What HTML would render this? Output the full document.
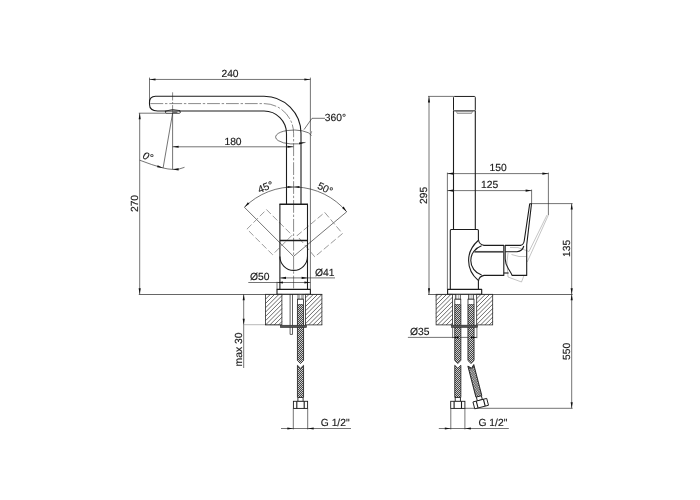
<!DOCTYPE html>
<html lang="en">
<head>
<meta charset="utf-8">
<title>Faucet technical drawing</title>
<style>
html,body{margin:0;padding:0;background:#fff;}
body{width:700px;height:500px;overflow:hidden;font-family:"Liberation Sans",Arial,sans-serif;}
svg{display:block;}
</style>
</head>
<body>
<svg width="700" height="500" viewBox="0 0 700 500">
<rect width="700" height="500" fill="#fff"/>
<defs>
<pattern id="braid" x="0" y="0" width="2" height="2" patternUnits="userSpaceOnUse">
<rect width="2" height="2" fill="#454545"/>
<rect x="0" y="0" width="1" height="1" fill="#cfcfcf" shape-rendering="crispEdges"/>
<rect x="1" y="1" width="1" height="1" fill="#cfcfcf" shape-rendering="crispEdges"/>
</pattern>
<filter id="soft" x="-5%" y="-5%" width="110%" height="110%"><feGaussianBlur stdDeviation="0.28"/></filter>
</defs>
<g fill="none" stroke="#2a2a2a" stroke-width="0.65">
<path d="M149.5 77.6V101 M310.4 77.6V289.4 M149.5 79.45H310.4"/>
<path d="M138.8 113.2H165 M139.7 113.2V294.3"/>
<path d="M172.6 146.8H293.5"/>
<path d="M172.6 113V169.5"/>
<path d="M172.6 113.2L163.1 168"/>
<path d="M139.7 160.2Q152 165 163.1 168 Q168 169.2 172.6 169.4 M172.6 169.4 Q180 169.6 184.5 167.3"/>
<path d="M325 118.3H312L304 129.6"/>
<path d="M311.6 135.5A18.2 7 0 1 0 305.5 142.4"/>
<path d="M244.4 207.3A69.4 69.4 0 0 1 346.7 211.8"/>
<path d="M244.4 207.3L293.5 256.4L346.7 211.8"/>
<path d="M280.3 277.9H335 M248.3 282.5H310.4 M277 281.8V289.4"/>
<path d="M243.7 294.3V368"/>
<path d="M281 428.5H351 M293.3 408.5V429.4 M307.7 408.5V429.4"/>
</g>
<g fill="none" stroke="#8a8a8a" stroke-width="0.6">
<path d="M243.2 324.7H281"/>
</g>
<g fill="none" stroke="#2a2a2a" stroke-width="0.55" stroke-dasharray="12.8 1.8 2.4 1.9">
<path d="M150.4 103.6H264A29.7 29.7 0 0 1 293.6 133.3V289"/>
<path d="M172.6 92.3V113" stroke-dasharray="8.2 1.5 1.6 1.5"/>
</g>
<g fill="none" stroke="#7a7a7a" stroke-width="0.7" stroke-dasharray="6.5 2.6">
<rect x="279.9" y="204.2" width="27.6" height="36.2" transform="rotate(-45 293.5 256.4)"/>
<rect x="279.9" y="204.2" width="27.6" height="36.2" transform="rotate(50 293.5 256.4)"/>
</g>
<g fill="none" stroke="#1c1c1c" stroke-width="1.1" stroke-linejoin="round">
<path d="M264 96.3H155.5Q149.5 96.5 149.5 102.3V104.6Q149.6 110.9 157.6 111H264A22.5 22.5 0 0 1 286.5 133.5V204.2"/>
<path d="M264 96.3A37 37 0 0 1 301 133.3V204.2"/>
<path d="M164.9 111.3Q172.5 108 180.2 110.7" stroke-width="0.8"/>
<path d="M165.6 111V113.3H179.2A1.2 1.2 0 0 0 179.2 110.9" stroke-width="0.8"/>
<rect x="172.6" y="111.3" width="4.8" height="1.8" fill="#666" stroke="none"/>
<path d="M279.9 204.2V289.4 M307.5 204.2V289.4"/>
<path d="M279.4 204.3H308 M279.9 240.4H307.5" stroke-width="1.45"/>
<path d="M279.9 256.6A13.8 13.8 0 0 0 307.5 256.6"/>
<rect x="277" y="289.4" width="33.4" height="4.9" fill="#fff"/>
</g>
<g stroke="#1c1c1c" stroke-width="0.75">
<path d="M265.60 294.80L266.10 294.30M265.60 299.10L270.40 294.30M265.60 303.40L274.70 294.30M265.60 307.70L279.00 294.30M265.60 312.00L281.90 295.70M265.60 316.30L281.90 300.00M265.60 320.60L281.90 304.30M265.60 324.90L281.90 308.60M269.90 324.90L281.90 312.90M274.20 324.90L281.90 317.20M278.50 324.90L281.90 321.50" fill="none" stroke="#444" stroke-width="0.8"/>
<path d="M305.60 297.80L309.10 294.30M305.60 302.10L313.40 294.30M305.60 306.40L317.70 294.30M305.60 310.70L321.90 294.40M305.60 315.00L321.90 298.70M305.60 319.30L321.90 303.00M305.60 323.60L321.90 307.30M308.60 324.90L321.90 311.60M312.90 324.90L321.90 315.90M317.20 324.90L321.90 320.20M321.50 324.90L321.90 324.50" fill="none" stroke="#444" stroke-width="0.8"/>
<rect x="265.6" y="294.3" width="16.3" height="30.6" fill="none"/>
<rect x="305.6" y="294.3" width="16.3" height="30.6" fill="none"/>
</g>
<g fill="none" stroke="#1c1c1c" stroke-width="0.7">
<path d="M138.8 294.5H321.9" stroke-width="0.75" stroke="#333"/>
<path d="M290.1 294.3V334.4H292.5V294.3" />
</g>
<rect x="298.0" y="294.5" width="5" height="4.7" fill="#fff" stroke="#222" stroke-width="0.7"/><path d="M299.4 295V299M301.4 295V299" fill="none" stroke="#777" stroke-width="0.6"/><rect x="297.5" y="299.2" width="6.0" height="5.3" fill="#fff" stroke="#222" stroke-width="0.8"/>
<g><path d="M297.45 304.5V360.5L300.5 363.5L303.55 360.5V304.5Z" fill="url(#braid)" stroke="none"/><path d="M297.45 304.5V360.5L300.5 363.5L303.55 360.5V304.5" fill="none" stroke="#222" stroke-width="0.85" stroke-linejoin="miter"/></g>
<g><path d="M297.45 397.4V365.3L300.5 368.3L303.55 365.3V397.4Z" fill="url(#braid)" stroke="none"/><path d="M297.45 397.4V365.3L300.5 368.3L303.55 365.3V397.4" fill="none" stroke="#222" stroke-width="0.85" stroke-linejoin="miter"/></g>
<rect x="280.3" y="325.2" width="26.3" height="2.4" fill="#555" stroke="#222" stroke-width="0.5"/>
<g fill="#fff" stroke="#1c1c1c" stroke-width="0.9"><rect x="297.9" y="397.4" width="5.2" height="4"/><rect x="293.4" y="401.3" width="14.2" height="7.1"/><path d="M296.8 401.3V408.4M304.2 401.3V408.4" stroke-width="1.1"/></g>
<g fill="none" stroke="#2a2a2a" stroke-width="0.65">
<path d="M428 96.4H453.5 M429 96.4V294.3"/>
<path d="M447.4 172.6V289.4 M447.4 173.6H548.4 M548.4 172.6V215 M447.4 190.6H531.6 M531.6 189.6V203.6"/>
<path d="M531 203.6H572.6 M571.7 203.6V408.3 M465 408.3H572.6"/>
<path d="M407.9 337.4H476.9 M452.6 327.5V338.2 M476.9 327.5V338.2"/>
<path d="M438.8 428.5H508.8 M450.8 408.5V429.4 M464.9 408.5V429.4"/>
</g>
<g fill="none" stroke="#8a8a8a" stroke-width="0.5">
<path d="M547 215L529 251.5 M548.4 215L527.2 262"/>
<path d="M510 247.5L518 247.6L529 251.5 M508 253L507 262L508 277L521.5 282L524 275.5 M511.5 254.5L519 256.5L526.5 256.5"/>
</g>
<g fill="none" stroke="#1c1c1c" stroke-width="1.1" stroke-linejoin="round">
<rect x="453.5" y="96.45" width="21.8" height="14.4" rx="0.9" stroke-width="1"/>
<path d="M456 111L457.3 113.5H471.5L472.8 111 M457 111.9H472" stroke="#444" stroke-width="0.5"/>
<path d="M453.5 110.7V229.5 M475.3 110.7V229.5"/>
<path d="M451.3 229.5H477.4Q478.4 229.5 478.4 230.5V239.5Q479 244.5 484 245.4H503.8V275.4H484Q479 276.3 478.4 281.2V289.4 M450.3 289.4V230.5Q450.3 229.5 451.3 229.5"/>
<path d="M478.2 240.5Q468.6 249 468.6 260.4Q468.6 272 478.2 280.3"/>
<path d="M481.6 245.7C475 248 470.8 254 470.8 260.4C470.8 267 475 272.9 481.6 275.1"/>
<path d="M474.3 251.8H503.8" stroke="#4a4a4a" stroke-width="1.7"/>
<path d="M505.2 245.4H520.5Q523.6 244.8 524.2 241L529.7 203.8H531.5L526.7 245V275.4H512.2Q510.8 272.5 508.5 269Q505.3 264 505.2 259Z"/>
<path d="M505.2 251.8H517Q522.5 251 523.8 246"/>
<path d="M503.8 273H508.6"/>
<rect x="447.6" y="289.4" width="34.1" height="4.9" fill="#fff"/>
</g>
<g stroke="#1c1c1c" stroke-width="0.75">
<path d="M436.10 296.30L438.10 294.30M436.10 300.60L442.40 294.30M436.10 304.90L446.70 294.30M436.10 309.20L451.00 294.30M436.10 313.50L452.40 297.20M436.10 317.80L452.40 301.50M436.10 322.10L452.40 305.80M437.60 324.90L452.40 310.10M441.90 324.90L452.40 314.40M446.20 324.90L452.40 318.70M450.50 324.90L452.40 323.00" fill="none" stroke="#444" stroke-width="0.8"/>
<path d="M476.70 294.40L476.80 294.30M476.70 298.70L481.10 294.30M476.70 303.00L485.40 294.30M476.70 307.30L489.70 294.30M476.70 311.60L492.70 295.60M476.70 315.90L492.70 299.90M476.70 320.20L492.70 304.20M476.70 324.50L492.70 308.50M480.60 324.90L492.70 312.80M484.90 324.90L492.70 317.10M489.20 324.90L492.70 321.40" fill="none" stroke="#444" stroke-width="0.8"/>
<rect x="436.1" y="294.3" width="16.3" height="30.6" fill="none"/>
<rect x="476.7" y="294.3" width="16" height="30.6" fill="none"/>
</g>
<g fill="none" stroke="#1c1c1c" stroke-width="0.7">
<path d="M428 294.5H572.6" stroke-width="0.75" stroke="#333"/>
</g>
<rect x="455.3" y="294.5" width="5" height="4.7" fill="#fff" stroke="#222" stroke-width="0.7"/><path d="M456.7 295V299M458.7 295V299" fill="none" stroke="#777" stroke-width="0.6"/><rect x="454.8" y="299.2" width="6.0" height="5.3" fill="#fff" stroke="#222" stroke-width="0.8"/>
<g><path d="M454.75 304.5V360.5L457.8 363.5L460.85 360.5V304.5Z" fill="url(#braid)" stroke="none"/><path d="M454.75 304.5V360.5L457.8 363.5L460.85 360.5V304.5" fill="none" stroke="#222" stroke-width="0.85" stroke-linejoin="miter"/></g>
<rect x="468.5" y="294.5" width="5" height="4.7" fill="#fff" stroke="#222" stroke-width="0.7"/><path d="M469.9 295V299M471.9 295V299" fill="none" stroke="#777" stroke-width="0.6"/><rect x="468.0" y="299.2" width="6.0" height="5.3" fill="#fff" stroke="#222" stroke-width="0.8"/>
<g><path d="M467.95 304.5V360.5L471.0 363.5L474.05 360.5V304.5Z" fill="url(#braid)" stroke="none"/><path d="M467.95 304.5V360.5L471.0 363.5L474.05 360.5V304.5" fill="none" stroke="#222" stroke-width="0.85" stroke-linejoin="miter"/></g>
<g><path d="M454.75 397.4V365.3L457.8 368.3L460.85 365.3V397.4Z" fill="url(#braid)" stroke="none"/><path d="M454.75 397.4V365.3L457.8 368.3L460.85 365.3V397.4" fill="none" stroke="#222" stroke-width="0.85" stroke-linejoin="miter"/></g>
<g transform="rotate(-14.5 471.0 366)">
<path d="M467.95 397.4V365.3L471 368.3L474.05 365.3V397.4Z" fill="#4c4c4c"/>
<path d="M468.90 368.5V397.4" stroke="#d4d4d4" stroke-width="1.05" stroke-dasharray="1.05 1.05" stroke-dashoffset="0" fill="none"/>
<path d="M469.95 368.5V397.4" stroke="#d4d4d4" stroke-width="1.05" stroke-dasharray="1.05 1.05" stroke-dashoffset="1.05" fill="none"/>
<path d="M471.00 368.5V397.4" stroke="#d4d4d4" stroke-width="1.05" stroke-dasharray="1.05 1.05" stroke-dashoffset="0" fill="none"/>
<path d="M472.05 368.5V397.4" stroke="#d4d4d4" stroke-width="1.05" stroke-dasharray="1.05 1.05" stroke-dashoffset="1.05" fill="none"/>
<path d="M473.10 368.5V397.4" stroke="#d4d4d4" stroke-width="1.05" stroke-dasharray="1.05 1.05" stroke-dashoffset="0" fill="none"/>
<path d="M467.95 397.4V365.3L471 368.3L474.05 365.3V397.4" fill="none" stroke="#222" stroke-width="0.85"/>
</g>
<rect x="451.4" y="325.1" width="26.2" height="2.4" fill="#555" stroke="#222" stroke-width="0.5"/>
<g fill="#fff" stroke="#1c1c1c" stroke-width="0.9"><rect x="455.2" y="397.4" width="5.2" height="4"/><rect x="450.7" y="401.3" width="14.2" height="7.1"/><path d="M454.1 401.3V408.4M461.5 401.3V408.4" stroke-width="1.1"/></g>
<g transform="rotate(-14.5 471.0 366)" fill="#fff" stroke="#1c1c1c" stroke-width="0.9"><rect x="468.4" y="397.4" width="5.2" height="4"/><rect x="463.9" y="401.3" width="14.2" height="7.1"/><path d="M467.3 401.3V408.4M474.7 401.3V408.4" stroke-width="1.1"/></g>
<polygon points="0,0 -6.0,-1.05 -6.0,1.05" fill="#111" transform="translate(149.5,79.45) rotate(180)"/>
<polygon points="0,0 -6.0,-1.05 -6.0,1.05" fill="#111" transform="translate(310.4,79.45) rotate(0)"/>
<polygon points="0,0 -6.0,-1.05 -6.0,1.05" fill="#111" transform="translate(139.7,113.2) rotate(-90)"/>
<polygon points="0,0 -6.0,-1.05 -6.0,1.05" fill="#111" transform="translate(139.7,294.3) rotate(90)"/>
<polygon points="0,0 -6.0,-1.05 -6.0,1.05" fill="#111" transform="translate(172.6,146.8) rotate(180)"/>
<polygon points="0,0 -6.0,-1.05 -6.0,1.05" fill="#111" transform="translate(293.5,146.8) rotate(0)"/>
<polygon points="0,0 -6.0,-1.05 -6.0,1.05" fill="#111" transform="translate(163.1,168) rotate(17)"/>
<polygon points="0,0 -6.0,-1.05 -6.0,1.05" fill="#111" transform="translate(172.6,169.4) rotate(180)"/>
<polygon points="0,0 -6.0,-1.05 -6.0,1.05" fill="#111" transform="translate(243.7,294.3) rotate(-90)"/>
<polygon points="0,0 -6.0,-1.05 -6.0,1.05" fill="#111" transform="translate(243.7,324.7) rotate(90)"/>
<polygon points="0,0 -6.0,-1.05 -6.0,1.05" fill="#111" transform="translate(280,277.9) rotate(180)"/>
<polygon points="0,0 -6.0,-1.05 -6.0,1.05" fill="#111" transform="translate(307.6,277.9) rotate(0)"/>
<polygon points="0,0 -6.0,-1.05 -6.0,1.05" fill="#111" transform="translate(277,282.5) rotate(180)"/>
<polygon points="0,0 -6.0,-1.05 -6.0,1.05" fill="#111" transform="translate(310.4,282.5) rotate(0)"/>
<polygon points="0,0 -6.0,-1.05 -6.0,1.05" fill="#111" transform="translate(293.3,428.5) rotate(0)"/>
<polygon points="0,0 -6.0,-1.05 -6.0,1.05" fill="#111" transform="translate(307.7,428.5) rotate(180)"/>
<polygon points="0,0 -6.0,-1.05 -6.0,1.05" fill="#111" transform="translate(244.4,207.3) rotate(135)"/>
<polygon points="0,0 -6.0,-1.05 -6.0,1.05" fill="#111" transform="translate(346.7,211.8) rotate(50)"/>
<polygon points="0,0 -6.0,-1.05 -6.0,1.05" fill="#111" transform="translate(293.5,187) rotate(0)"/>
<polygon points="0,0 -6.0,-1.05 -6.0,1.05" fill="#111" transform="translate(293.5,187) rotate(180)"/>
<polygon points="0,0 -6.0,-1.05 -6.0,1.05" fill="#111" transform="translate(305,142.2) rotate(-12)"/>
<polygon points="0,0 -6.0,-1.05 -6.0,1.05" fill="#111" transform="translate(429,96.4) rotate(-90)"/>
<polygon points="0,0 -6.0,-1.05 -6.0,1.05" fill="#111" transform="translate(429,294.3) rotate(90)"/>
<polygon points="0,0 -6.0,-1.05 -6.0,1.05" fill="#111" transform="translate(447.4,173.6) rotate(180)"/>
<polygon points="0,0 -6.0,-1.05 -6.0,1.05" fill="#111" transform="translate(548.4,173.6) rotate(0)"/>
<polygon points="0,0 -6.0,-1.05 -6.0,1.05" fill="#111" transform="translate(447.4,190.6) rotate(180)"/>
<polygon points="0,0 -6.0,-1.05 -6.0,1.05" fill="#111" transform="translate(531.6,190.6) rotate(0)"/>
<polygon points="0,0 -6.0,-1.05 -6.0,1.05" fill="#111" transform="translate(571.7,203.6) rotate(-90)"/>
<polygon points="0,0 -6.0,-1.05 -6.0,1.05" fill="#111" transform="translate(571.7,294.3) rotate(90)"/>
<polygon points="0,0 -6.0,-1.05 -6.0,1.05" fill="#111" transform="translate(571.7,294.3) rotate(-90)"/>
<polygon points="0,0 -6.0,-1.05 -6.0,1.05" fill="#111" transform="translate(571.7,408.3) rotate(90)"/>
<polygon points="0,0 -6.0,-1.05 -6.0,1.05" fill="#111" transform="translate(452.6,337.4) rotate(180)"/>
<polygon points="0,0 -6.0,-1.05 -6.0,1.05" fill="#111" transform="translate(476.9,337.4) rotate(0)"/>
<polygon points="0,0 -6.0,-1.05 -6.0,1.05" fill="#111" transform="translate(450.8,428.5) rotate(0)"/>
<polygon points="0,0 -6.0,-1.05 -6.0,1.05" fill="#111" transform="translate(464.9,428.5) rotate(180)"/>
<polygon points="0,0 -3.5,-1.0 -3.5,1.0" fill="#aaa" transform="translate(311.8,134.5) rotate(80)"/>
<g font-family="'Liberation Sans', Arial, sans-serif" font-size="10.3px" fill="#1a1a1a" stroke="#1a1a1a" stroke-width="0.15" text-anchor="middle" text-rendering="geometricPrecision" filter="url(#soft)">
<text x="230" y="77.3">240</text>
<text x="233" y="144.5">180</text>
<text x="335.4" y="121.3">360°</text>
<text x="137.8" y="203.5" transform="rotate(-90 137.8 203.5)">270</text>
<text x="242.0" y="349.5" transform="rotate(-90 242.0 349.5)">max 30</text>
<text x="259.8" y="280.4">Ø50</text>
<text x="324.8" y="275.5">Ø41</text>
<text x="335.2" y="426.3">G 1/2"</text>
<text x="293.5" y="185.1" transform="rotate(-22 293.5 256.4)">45°</text>
<text x="293.5" y="184.9" transform="rotate(25 293.5 256.4)">50°</text>
<text x="148.0" y="160.0" font-style="italic" transform="rotate(22 148.0 156.5)">0°</text>
<text x="498.2" y="171.1">150</text>
<text x="489.7" y="188.4">125</text>
<text x="427.3" y="195.3" transform="rotate(-90 427.3 195.3)">295</text>
<text x="569.8" y="248.3" transform="rotate(-90 569.8 248.3)">135</text>
<text x="569.8" y="351.4" transform="rotate(-90 569.8 351.4)">550</text>
<text x="419.7" y="334.7">Ø35</text>
<text x="492.9" y="426.1">G 1/2"</text>
</g>
</svg>
</body>
</html>
